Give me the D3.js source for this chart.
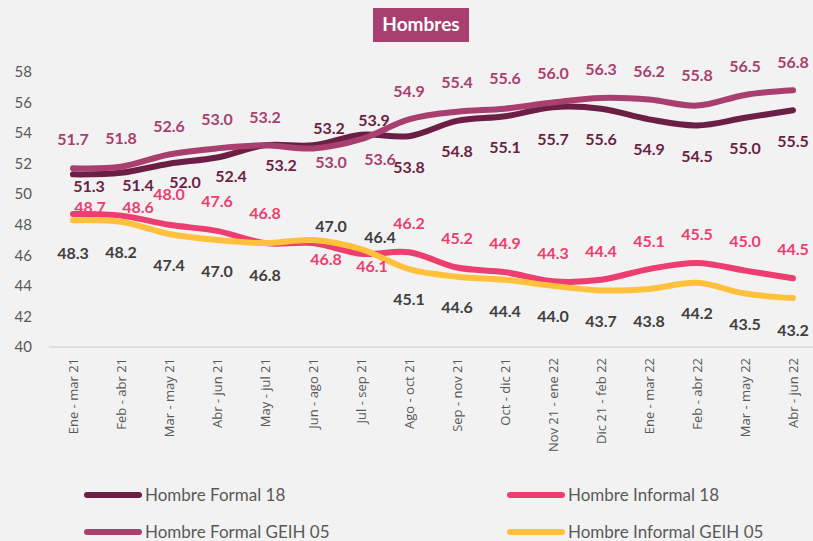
<!DOCTYPE html>
<html>
<head>
<meta charset="utf-8">
<script src="https://cdn.jsdelivr.net/npm/d3@7"></script>
<style>
  body { margin: 0; background: #f2f2f2; }
  svg { display: block; }
</style>
</head>
<body>
<svg id="chart" width="813" height="541"></svg>
<script>
// periods on the x axis
var periods = ["Ene - mar 21", "Feb - abr 21", "Mar - may 21", "Abr - jun 21", "May - jul 21",
    "Jun - ago 21", "Jul - sep 21", "Ago - oct 21", "Sep - nov 21", "Oct - dic 21",
    "Nov 21 - ene 22", "Dic 21 - feb 22", "Ene - mar 22", "Feb - abr 22", "Mar - may 22", "Abr - jun 22"]

var formal18 = [51.3, 51.4, 52.0, 52.4, 53.2, 53.2, 53.9, 53.8, 54.8, 55.1, 55.7, 55.6, 54.9, 54.5, 55.0, 55.5]
var informal18 = [48.7, 48.6, 48.0, 47.6, 46.8, 46.8, 46.1, 46.2, 45.2, 44.9, 44.3, 44.4, 45.1, 45.5, 45.0, 44.5]
var formalGeih = [51.7, 51.8, 52.6, 53.0, 53.2, 53.0, 53.6, 54.9, 55.4, 55.6, 56.0, 56.3, 56.2, 55.8, 56.5, 56.8]
var informalGeih = [48.3, 48.2, 47.4, 47.0, 46.8, 47.0, 46.4, 45.1, 44.6, 44.4, 44.0, 43.7, 43.8, 44.2, 43.5, 43.2]

var yTicks = [40, 42, 44, 46, 48, 50, 52, 54, 56, 58]

// where each value label sits relative to its point (label placement, not data)
var formal18Dx = [16, 17, 16, 14, 16, 16, 13, 0, 0, 0, 0, 0, 0, 0, 0, 0]
var formal18Dy = [12, 13, 19, 19, 20, -17, -14, 31, 31, 31, 32, 31, 30, 31, 31, 31]
var informal18Dx = [17, 17, 0, 0, 0, 13, 11, 0, 0, 0, 0, 0, 0, 0, 0, 0]
var informal18Dy = [-7, -8, -30, -29, -30, 16, 13, -29, -29, -29, -28, -28, -28, -29, -29, -29]
var formalGeihDx = [0, 0, 0, 0, 0, 18, 19, 0, 0, 0, 0, 0, 0, 0, 0, 0]
var formalGeihDy = [-29, -28, -28, -29, -28, 14, 20, -28, -29, -30, -29, -29, -28, -30, -29, -28]
var informalGeihDx = [0, 0, 0, 0, 0, 18, 19, 0, 0, 0, 0, 0, 0, 0, 0, 0]
var informalGeihDy = [33, 31, 31, 31, 32, -14, -12, 30, 31, 32, 31, 31, 32, 31, 31, 32]

var series = [
    {name: "Hombre Formal 18", values: formal18, color: "#6b1f45", label: "#6b1f45", dx: formal18Dx, dy: formal18Dy},
    {name: "Hombre Informal 18", values: informal18, color: "#ee3d6f", label: "#ee3d6f", dx: informal18Dx, dy: informal18Dy},
    {name: "Hombre Formal GEIH 05", values: formalGeih, color: "#a83f6f", label: "#a83f6f", dx: formalGeihDx, dy: formalGeihDy},
    {name: "Hombre Informal GEIH 05", values: informalGeih, color: "#ffc13b", label: "#404040", dx: informalGeihDx, dy: informalGeihDy}
]

var svg = d3.select("#chart")

svg.append("rect").attr("width", 813).attr("height", 541).attr("fill", "#f2f2f2")

var x = d3.scaleBand().domain(periods).range([49, 817])
var y = d3.scaleLinear().domain([40, 58]).range([347, 72])

function cx(i) { return x(periods[i]) + x.bandwidth() / 2 }

// title badge
svg.append("rect")
    .attr("x", 373).attr("y", 8).attr("width", 96).attr("height", 34)
    .attr("fill", "#a83f6f")
svg.append("text")
    .attr("x", 421).attr("y", 31)
    .attr("text-anchor", "middle")
    .style("font-family", "Lato")
    .style("font-weight", "bold")
    .style("font-size", "19px")
    .attr("fill", "#ffffff")
    .text("Hombres")

// y axis labels
svg.append("g").selectAll("text")
    .data(yTicks)
    .enter().append("text")
    .attr("x", 32)
    .attr("y", function(d) { return y(d) })
    .attr("dy", "0.35em")
    .attr("text-anchor", "end")
    .style("font-family", "Lato")
    .style("font-size", "15px")
    .attr("fill", "#595959")
    .text(function(d) { return d })

// bottom axis line
svg.append("line")
    .attr("x1", 49).attr("x2", 817)
    .attr("y1", y(40)).attr("y2", y(40))
    .attr("stroke", "#d9d9d9").attr("stroke-width", 1.5)

// x labels
svg.append("g").selectAll("text")
    .data(periods)
    .enter().append("text")
    .attr("transform", function(d) { return "translate(" + (x(d) + x.bandwidth() / 2) + ",358) rotate(-90)" })
    .attr("dy", "0.35em")
    .attr("text-anchor", "end")
    .style("font-family", "Open Sans")
    .style("font-size", "13px")
    .attr("fill", "#595959")
    .text(function(d) { return d })

var line = d3.line()
    .x(function(d, i) { return cx(i) })
    .y(function(d) { return y(d) })
    .curve(d3.curveCatmullRom.alpha(0.5))

svg.append("g").selectAll("path")
    .data(series)
    .enter().append("path")
    .attr("d", function(d) { return line(d.values) })
    .attr("fill", "none")
    .attr("stroke", function(d) { return d.color })
    .attr("stroke-width", 6)
    .attr("stroke-linecap", "round")
    .attr("stroke-linejoin", "round")

// value labels
series.forEach(function(s) {
    svg.append("g").selectAll("text")
        .data(s.values)
        .enter().append("text")
        .attr("x", function(d, i) { return cx(i) + s.dx[i] })
        .attr("y", function(d, i) { return y(d) + s.dy[i] })
        .attr("dy", "0.35em")
        .attr("text-anchor", "middle")
        .style("font-family", "Lato")
        .style("font-weight", "bold")
        .style("font-size", "16px")
        .attr("fill", s.label)
        .text(function(d) { return d.toFixed(1) })
})

// legend
var legendPos = [[85, 495], [508, 495], [85, 532], [508, 532]]
var lg = svg.append("g").selectAll("g")
    .data(series)
    .enter().append("g")
    .attr("transform", function(d, i) { return "translate(" + legendPos[i][0] + "," + legendPos[i][1] + ")" })

lg.append("line")
    .attr("x1", 2).attr("x2", 54)
    .attr("stroke", function(d) { return d.color })
    .attr("stroke-width", 6)
    .attr("stroke-linecap", "round")

lg.append("text")
    .attr("x", 60)
    .attr("dy", "0.35em")
    .style("font-family", "Lato")
    .style("font-size", "17px")
    .attr("fill", "#595959")
    .text(function(d) { return d.name })
</script>
</body>
</html>
